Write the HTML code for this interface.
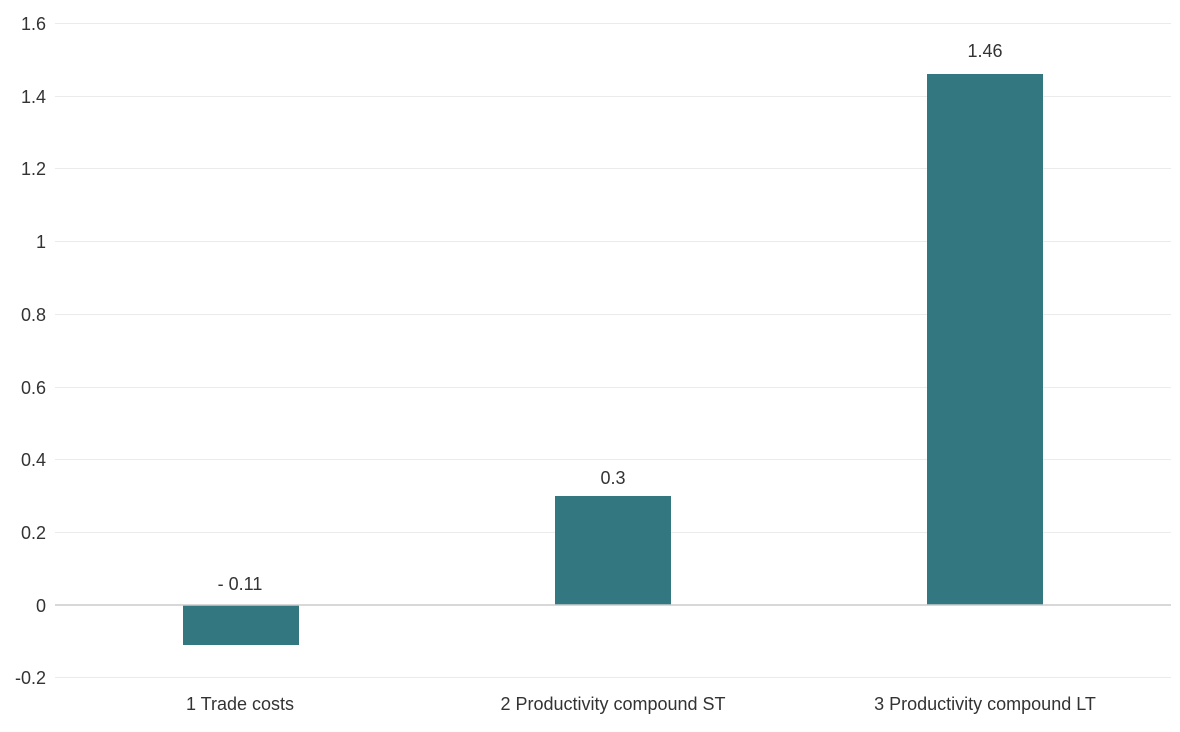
<!DOCTYPE html>
<html><head><style>body{margin:0;background:#fff}svg{display:block}text{font-family:"Liberation Sans",sans-serif;fill:#333;font-size:18px}</style></head>
<body>
<svg width="1180" height="732" viewBox="0 0 1180 732">
<g stroke="#ebebeb" stroke-width="1">
<line x1="55" x2="1171" y1="23.5" y2="23.5"/>
<line x1="55" x2="1171" y1="96.5" y2="96.5"/>
<line x1="55" x2="1171" y1="168.5" y2="168.5"/>
<line x1="55" x2="1171" y1="241.5" y2="241.5"/>
<line x1="55" x2="1171" y1="314.5" y2="314.5"/>
<line x1="55" x2="1171" y1="387.5" y2="387.5"/>
<line x1="55" x2="1171" y1="459.5" y2="459.5"/>
<line x1="55" x2="1171" y1="532.5" y2="532.5"/>
<line x1="55" x2="1171" y1="677.5" y2="677.5"/>
</g>
<rect x="183" y="605" width="116" height="40" fill="#337880"/>
<rect x="555" y="496" width="116" height="109" fill="#337880"/>
<rect x="927" y="74" width="116" height="531" fill="#337880"/>
<line x1="55" x2="1171" y1="605" y2="605" stroke="#ccc" stroke-width="1.5"/>
<g text-anchor="end">
<text x="46" y="30">1.6</text>
<text x="46" y="103">1.4</text>
<text x="46" y="175">1.2</text>
<text x="46" y="248">1</text>
<text x="46" y="321">0.8</text>
<text x="46" y="394">0.6</text>
<text x="46" y="466">0.4</text>
<text x="46" y="539">0.2</text>
<text x="46" y="612">0</text>
<text x="46" y="684">-0.2</text>
</g>
<g text-anchor="middle">
<text x="240" y="590">- 0.11</text>
<text x="613" y="484">0.3</text>
<text x="985" y="57">1.46</text>
<text x="240" y="710">1 Trade costs</text>
<text x="613" y="710">2 Productivity compound ST</text>
<text x="985" y="710">3 Productivity compound LT</text>
</g>
</svg>
</body></html>
